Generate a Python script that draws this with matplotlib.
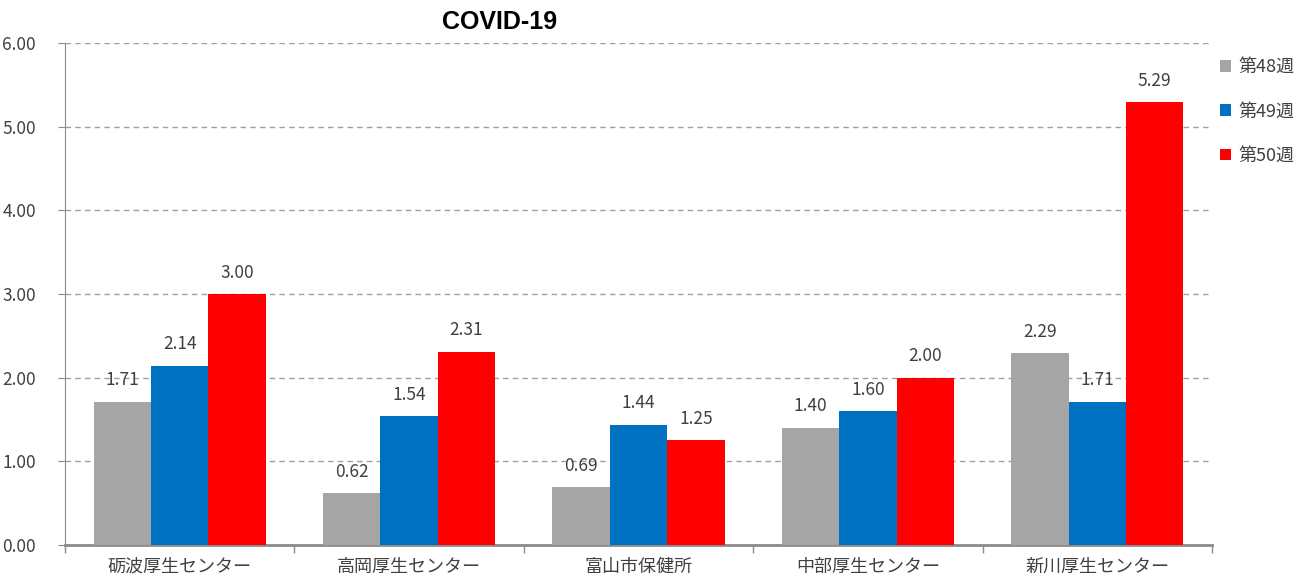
import matplotlib
import matplotlib.pyplot as plt
import numpy as np

matplotlib.use("Agg")

plt.rcParams["font.family"] = ["Noto Sans CJK JP", "DejaVu Sans"]

CENTERS = ["砺波厚生センター", "高岡厚生センター", "富山市保健所", "中部厚生センター", "新川厚生センター"]
SERIES = ["第48週", "第49週", "第50週"]
WEEK48 = [1.71, 0.62, 0.69, 1.40, 2.29]
WEEK49 = [2.14, 1.54, 1.44, 1.60, 1.71]
WEEK50 = [3.00, 2.31, 1.25, 2.00, 5.29]
COLORS = ["#A5A5A5", "#0070C0", "#FF0000"]
TEXT = "#404040"

fig = plt.figure(figsize=(13.11, 5.77), dpi=100)
ax = fig.add_axes([65 / 1311, 32 / 577, (1212 - 65) / 1311, (545 - 43) / 577])

x = np.arange(len(CENTERS))
width = 0.25
handles = []
for i, (values, color, name) in enumerate(zip([WEEK48, WEEK49, WEEK50], COLORS, SERIES)):
    pos = x + (i - 1) * width
    bars = ax.bar(pos, values, width=width, color=color, label=name, zorder=3)
    handles.append(bars)
    for p, v in zip(pos, values):
        ax.annotate(f"{v:.2f}", (p, v), xytext=(0, 9), textcoords="offset points",
                    ha="center", va="bottom", fontsize=12.5, color=TEXT, zorder=4)

ax.set_xlim(-0.5, len(CENTERS) - 0.5)
ax.set_ylim(0, 6)
ax.set_yticks(np.arange(0, 6.01, 1))
ax.set_yticklabels([f"{v:.2f}" for v in np.arange(0, 6.01, 1)], fontsize=12.5, color=TEXT)
ax.yaxis.grid(True, color="#A0A0A0", linestyle=(0, (4, 3)), linewidth=1, zorder=0)

ax.set_xticks(np.arange(-0.5, len(CENTERS), 1))
ax.set_xticklabels([])
ax.set_xticks(x, minor=True)
ax.set_xticklabels(CENTERS, minor=True, fontsize=13, color=TEXT)
ax.tick_params(axis="x", which="major", length=6, color="#8C8C8C", width=1, direction="out")
ax.tick_params(axis="x", which="minor", length=0, pad=9)
ax.tick_params(axis="y", length=5, color="#8C8C8C", pad=16)

for side in ["top", "right"]:
    ax.spines[side].set_visible(False)
ax.spines["left"].set_color("#8C8C8C")
ax.spines["bottom"].set_color("#8C8C8C")
ax.spines["bottom"].set_linewidth(2)

fig.text(500 / 1311, 1 - 22 / 577, "COVID-19", ha="center", va="center",
         fontsize=18, fontweight="bold", color="black", family=["Liberation Sans", "DejaVu Sans"])

fig.legend(handles=handles, labels=SERIES, loc="upper left", bbox_to_anchor=(1204 / 1311, 1 - 42 / 577),
           frameon=False, fontsize=13, labelcolor=TEXT, handlelength=0.6, handleheight=0.6,
           handletextpad=0.4, labelspacing=1.45)

fig.savefig("out.png", dpi=100)
